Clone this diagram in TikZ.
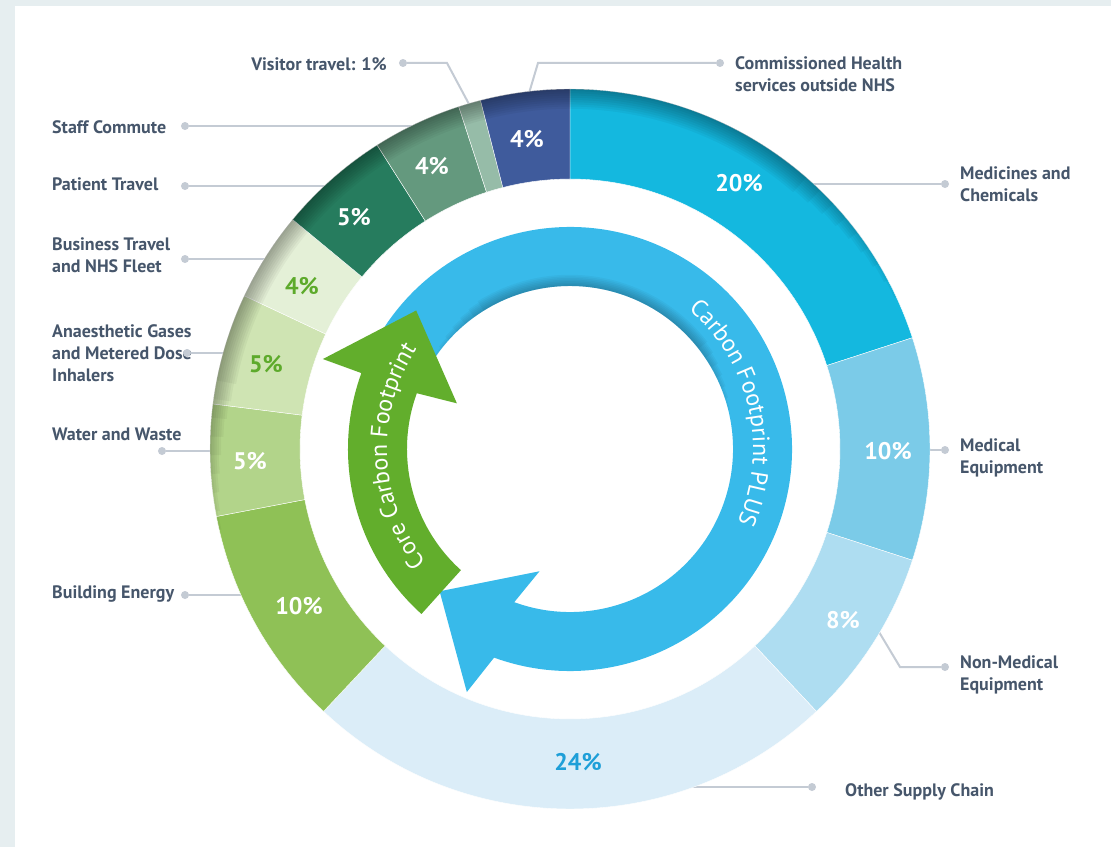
\documentclass[tikz,border=0pt]{standalone}
\usepackage{fontspec}
\setmainfont{PT Sans}
\usetikzlibrary{decorations.text}

\definecolor{panelgrey}{HTML}{E6EEF0}
\definecolor{labelgrey}{HTML}{46566B}
\definecolor{leadgrey}{HTML}{C4CBD4}
\definecolor{medicines}{HTML}{14B8DF}
\definecolor{medequip}{HTML}{7BCBE8}
\definecolor{nonmed}{HTML}{AEDDF1}
\definecolor{supply}{HTML}{DBEDF8}
\definecolor{building}{HTML}{8FC156}
\definecolor{water}{HTML}{B2D48A}
\definecolor{anaest}{HTML}{CFE4B3}
\definecolor{business}{HTML}{E4F0D7}
\definecolor{patient}{HTML}{267C5E}
\definecolor{staff}{HTML}{64997E}
\definecolor{visitor}{HTML}{96BCA8}
\definecolor{commiss}{HTML}{3F5B9C}
\definecolor{plusblue}{HTML}{38BAEA}
\definecolor{coregreen}{HTML}{62AE2C}
\definecolor{pctblue}{HTML}{1E9FD8}
\definecolor{pctgreen}{HTML}{5DAA2B}

\tikzset{
  LabelStyle/.style = { anchor=west, align=left, text=labelgrey, inner sep=0pt,
                        font=\fontsize{18}{22}\selectfont\bfseries },
  PctStyle/.style   = { text=white, font=\fontsize{24}{24}\selectfont\bfseries },
  DotStyle/.style   = { circle, fill=leadgrey, inner sep=0pt, minimum size=8pt },
  LeaderStyle/.style = { draw=leadgrey, line width=2pt },
  RingStyle/.style  = { draw=white, line width=0.4pt } }

\begin{document}
\begin{tikzpicture}[x=1pt,y=1pt]
  \useasboundingbox[fill=panelgrey] (-570,449) rectangle (541,-398);
  \fill[white] (-555,443) rectangle (541,-398);

  % labels
  \node[LabelStyle,anchor=east](lVisit) at (-183,385) {Visitor travel: 1\%};
  \node[LabelStyle](lCommiss) at (165,375) {Commissioned Health\\services outside NHS};
  \node[LabelStyle](lMedic) at (390,265) {Medicines and\\Chemicals};
  \node[LabelStyle](lMedEq) at (390,-9) {Medical\\Equipment};
  \node[LabelStyle](lNonMed) at (390,-226) {Non-Medical\\Equipment};
  \node[LabelStyle](lSupply) at (275,-343) {Other Supply Chain};
  \node[LabelStyle](lStaff) at (-518,322) {Staff Commute};
  \node[LabelStyle](lPatient) at (-518,265) {Patient Travel};
  \node[LabelStyle](lBusiness) at (-518,194) {Business Travel\\and NHS Fleet};
  \node[LabelStyle](lAnaest) at (-518,96) {Anaesthetic Gases\\and Metered Dose\\Inhalers};
  \node[LabelStyle](lWater) at (-518,15) {Water and Waste};
  \node[LabelStyle](lBuilding) at (-518,-145) {Building Energy};

  % leaders
  \node[DotStyle](dVisit) at (-167,386) {};
  \node[DotStyle](dCommiss) at (150,386) {};
  \node[DotStyle](dMedic) at (375,265) {};
  \node[DotStyle](dMedEq) at (375,-1) {};
  \node[DotStyle](dNonMed) at (375,-218) {};
  \node[DotStyle](dSupply) at (242,-338) {};
  \node[DotStyle](dStaff) at (-385,323) {};
  \node[DotStyle](dPatient) at (-385,263) {};
  \node[DotStyle](dBusiness) at (-385,190) {};
  \node[DotStyle](dAnaest) at (-383,96) {};
  \node[DotStyle](dWater) at (-408,-2) {};
  \node[DotStyle](dBuilding) at (-385,-146) {};
  \coordinate (bVisit) at (-123,386);
  \coordinate (eVisit) at (106:350pt);
  \coordinate (bCommiss) at (-32,386);
  \coordinate (eCommiss) at (97:352pt);
  \coordinate (eMedic) at (236,265);
  \coordinate (eMedEq) at (352,-1);
  \coordinate (bNonMed) at (330,-218);
  \coordinate (eNonMed) at (-30:352pt);
  \coordinate (eSupply) at (116,-338);
  \coordinate (eStaff) at (-150,323);
  \coordinate (ePatient) at (-236,263);
  \coordinate (eBusiness) at (-296,190);
  \coordinate (eAnaest) at (-338,96);
  \coordinate (eWater) at (-352,-2);
  \coordinate (eBuilding) at (-322,-146);
  \draw[LeaderStyle] (dVisit) -- (bVisit) -- (eVisit);
  \draw[LeaderStyle] (dCommiss) -- (bCommiss) -- (eCommiss);
  \draw[LeaderStyle] (dNonMed) -- (bNonMed) -- (eNonMed);
  \foreach \n in {Medic,MedEq,Supply,Staff,Patient,Business,Anaest,Water,Building}
    \draw[LeaderStyle] (d\n) -- (e\n);

  % outer ring
  \foreach \a/\b/\c in {90/18/medicines, 18/-18/medequip, -18/-46.8/nonmed,
      -46.8/-133.2/supply, -133.2/-169.2/building, -169.2/-187.2/water,
      172.8/154.8/anaest, 154.8/140.4/business, 140.4/122.4/patient,
      122.4/108/staff, 108/104.4/visitor, 104.4/90/commiss}
    \fill[\c, RingStyle] (\a:360pt) arc (\a:\b:360pt) -- (\b:270pt) arc (\b:\a:270pt) -- cycle;
  \foreach \k [evaluate=\k as \r using 360-2.2*\k, evaluate=\k as \s using 22+3*\k,
               evaluate=\k as \t using 196-3*\k] in {1,...,9}
    \fill[black, opacity=0.04] (\s:360pt) arc (\s:\t:360pt)
      -- (\t:\r pt) arc (\t:\s:\r pt) -- cycle;

  % percentages
  \node[PctStyle](pCommiss) at (-43,310) {4\%};
  \node[PctStyle](pMedic) at (169,266) {20\%};
  \node[PctStyle](pMedEq) at (318,-2) {10\%};
  \node[PctStyle](pNonMed) at (273,-171) {8\%};
  \node[PctStyle,text=pctblue](pSupply) at (8,-313) {24\%};
  \node[PctStyle](pBuilding) at (-271,-157) {10\%};
  \node[PctStyle](pWater) at (-320,-12) {5\%};
  \node[PctStyle,text=pctgreen](pAnaest) at (-304,85) {5\%};
  \node[PctStyle,text=pctgreen](pBusiness) at (-268,163) {4\%};
  \node[PctStyle](pPatient) at (-216,232) {5\%};
  \node[PctStyle](pStaff) at (-138,283) {4\%};

  % inner arrows
  \fill[plusblue] (152:222pt) arc (152:-110:222pt) -- (-113:264pt) -- (-132.5:193pt)
    -- (-104:126pt) -- (-110:163pt) arc (-110:152:163pt) -- cycle;
  \foreach \k [evaluate=\k as \r using 163+1.6*\k, evaluate=\k as \s using 150-4*\k,
               evaluate=\k as \t using 10+4*\k] in {1,...,7}
    \fill[black, opacity=0.035] (\s:163pt) arc (\s:\t:163pt)
      -- (\t:\r pt) arc (\t:\s:\r pt) -- cycle;
  \fill[coregreen] (228:222pt) arc (228:160:222pt) -- (160:263pt) -- (138:207pt)
    -- (158:122pt) -- (160:163pt) arc (160:228:163pt) -- cycle;
  \path[decorate, decoration={text along path, text color=white, text align=center,
      text={|\fontsize{24}{24}\selectfont|Carbon Footprint PLUS}}]
    (60:183pt) arc (60:-34:183pt);
  \path[decorate, decoration={text along path, text color=white, text align=center,
      text={|\fontsize{24}{24}\selectfont|Core Carbon Footprint}}]
    (225:183pt) arc (225:140:183pt);
\end{tikzpicture}
\end{document}
